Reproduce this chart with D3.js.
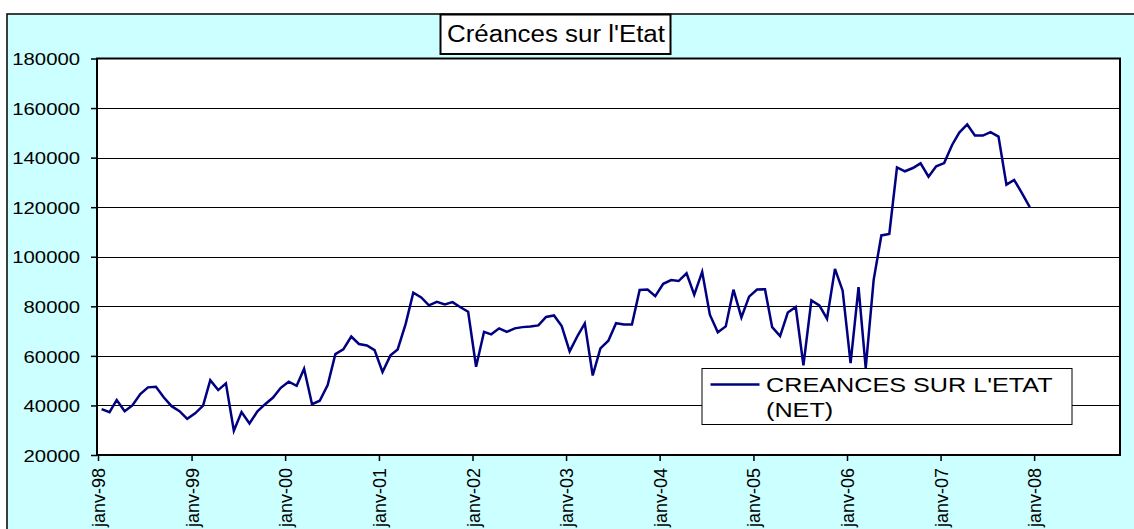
<!DOCTYPE html>
<html>
<head>
<meta charset="utf-8">
<script src="https://cdn.jsdelivr.net/npm/d3@7"></script>
<style>
  html, body { margin: 0; padding: 0; background: #ffffff; }
  svg { display: block; }
  text { font-family: "Liberation Sans", Arial, sans-serif; fill: #000; }
</style>
</head>
<body>
<svg id="chart" width="1134" height="529"></svg>
<script>
// Monthly series, January 1998 to December 2007
const seriesName = ["CREANCES SUR L'ETAT", "(NET)"];
const chartTitle = "Créances sur l'Etat";
const firstYear = 1998;
const values = [
  38500, 37300, 42200, 37700, 40000, 44600, 47300, 47500, 43200, 39700, 37700, 34600, // 1998
  36800, 39900, 50200, 46200, 48900, 29800, 37300, 32700, 37600, 40500, 43200, 47100, // 1999
  49600, 47900, 54800, 40500, 41900, 48200, 60700, 62600, 67800, 64800, 64200, 62300, // 2000
  53500, 60200, 62600, 72800, 85500, 83600, 80400, 81800, 80800, 81700, 79600, 77800, // 2001
  55600, 69700, 68700, 71100, 69700, 71100, 71600, 71900, 72300, 75700, 76300, 72000, // 2002
  61800, 68100, 73100, 52100, 63000, 66100, 73200, 72700, 72700, 86600, 86800, 84100, // 2003
  89100, 90600, 90200, 93300, 84700, 93900, 76600, 69500, 71900, 86700, 75500, 83900, // 2004
  86800, 86900, 71600, 68000, 77500, 79700, 56200, 82400, 80400, 75000, 95100, 86300, // 2005
  57100, 87700, 55100, 90700, 108600, 109200, 136100, 134500, 135800, 137700, 132300, 136500, // 2006
  137800, 145100, 150100, 153400, 148900, 148900, 150300, 148500, 129100, 131000, 125600, 120000 // 2007
];
const xTickLabels = ["janv-98", "janv-99", "janv-00", "janv-01", "janv-02", "janv-03",
                     "janv-04", "janv-05", "janv-06", "janv-07", "janv-08"];
const yTicks = [20000, 40000, 60000, 80000, 100000, 120000, 140000, 160000, 180000];

const data = values.map((v, i) => ({ date: new Date(firstYear, i, 15), value: v }));

const svg = d3.select("#chart");

// Chart area background
svg.append("rect")
  .attr("x", 7).attr("y", 14).attr("width", 1140).attr("height", 530)
  .attr("fill", "#ccffff").attr("stroke", "#000").attr("stroke-width", 1.5);

const plot = { left: 97, top: 58.5, right: 1120, bottom: 455 };

const x = d3.scaleTime()
  .domain([new Date(1998, 0, 1), new Date(2008, 11, 1)])
  .range([98, plot.right]);
const y = d3.scaleLinear()
  .domain([20000, 180000])
  .range([plot.bottom, plot.top]);

// Plot area
svg.append("rect")
  .attr("x", plot.left).attr("y", plot.top)
  .attr("width", plot.right - plot.left).attr("height", plot.bottom - plot.top)
  .attr("fill", "#fff");

// Horizontal gridlines
svg.append("g").selectAll("line")
  .data(yTicks.filter(t => t > 20000 && t < 180000))
  .join("line")
  .attr("x1", plot.left).attr("x2", plot.right)
  .attr("y1", d => Math.round(y(d)) + 0.5).attr("y2", d => Math.round(y(d)) + 0.5)
  .attr("stroke", "#000").attr("stroke-width", 1);

// Plot border
svg.append("rect")
  .attr("x", plot.left).attr("y", plot.top)
  .attr("width", plot.right - plot.left).attr("height", plot.bottom - plot.top)
  .attr("fill", "none").attr("stroke", "#000").attr("stroke-width", 2);

// Y axis
const yAxis = d3.axisLeft(y).tickValues(yTicks).tickSize(6).tickFormat(d3.format("d"));
const gy = svg.append("g").attr("transform", `translate(${plot.left},0)`).call(yAxis);
gy.select(".domain").remove();
gy.selectAll(".tick line").attr("stroke", "#000").attr("stroke-width", 1.5);
gy.selectAll(".tick text")
  .attr("x", null).attr("dy", null)
  .attr("font-size", 16)
  .attr("text-anchor", "end")
  .attr("dominant-baseline", "central")
  .attr("transform", "translate(-17,0.5) scale(1.27,1)");

// X axis (yearly ticks)
const xTickDates = xTickLabels.map((_, i) => new Date(firstYear + i, 0, 1));
const xAxis = d3.axisBottom(x).tickValues(xTickDates).tickSize(6)
  .tickFormat((d, i) => xTickLabels[i]);
const gx = svg.append("g").attr("transform", `translate(0,${plot.bottom})`).call(xAxis);
gx.select(".domain").remove();
gx.selectAll(".tick line").attr("stroke", "#000").attr("stroke-width", 1.5);
gx.selectAll(".tick text")
  .attr("y", null).attr("dy", null)
  .attr("font-size", 18)
  .attr("text-anchor", "end")
  .attr("dominant-baseline", "central")
  .attr("transform", "translate(0.5,13) rotate(-90)");

// Series line
const line = d3.line().x(d => x(d.date)).y(d => y(d.value));
svg.append("path")
  .datum(data)
  .attr("d", line)
  .attr("fill", "none")
  .attr("stroke", "#000080")
  .attr("stroke-width", 2.5)
  .attr("stroke-linejoin", "miter");

// Legend
const legend = svg.append("g");
legend.append("rect")
  .attr("x", 702).attr("y", 368.5).attr("width", 370).attr("height", 56)
  .attr("fill", "#fff").attr("stroke", "#000").attr("stroke-width", 1);
legend.append("line")
  .attr("x1", 710.5).attr("x2", 759.5).attr("y1", 384.5).attr("y2", 384.5)
  .attr("stroke", "#000080").attr("stroke-width", 2.5);
legend.selectAll("text.lg")
  .data(seriesName)
  .join("text")
  .attr("class", "lg")
  .attr("font-size", 21)
  .attr("transform", (d, i) => `translate(766,${392 + i * 24.7}) scale(1.2,1)`)
  .text(d => d);

// Title box
const title = svg.append("g");
title.append("rect")
  .attr("x", 440.5).attr("y", 14.5).attr("width", 230).attr("height", 39.5)
  .attr("fill", "#fff").attr("stroke", "#000").attr("stroke-width", 2);
title.append("text")
  .attr("font-size", 23)
  .attr("text-anchor", "middle")
  .attr("transform", "translate(556,41.7) scale(1.126,1)")
  .text(chartTitle);
</script>
</body>
</html>
